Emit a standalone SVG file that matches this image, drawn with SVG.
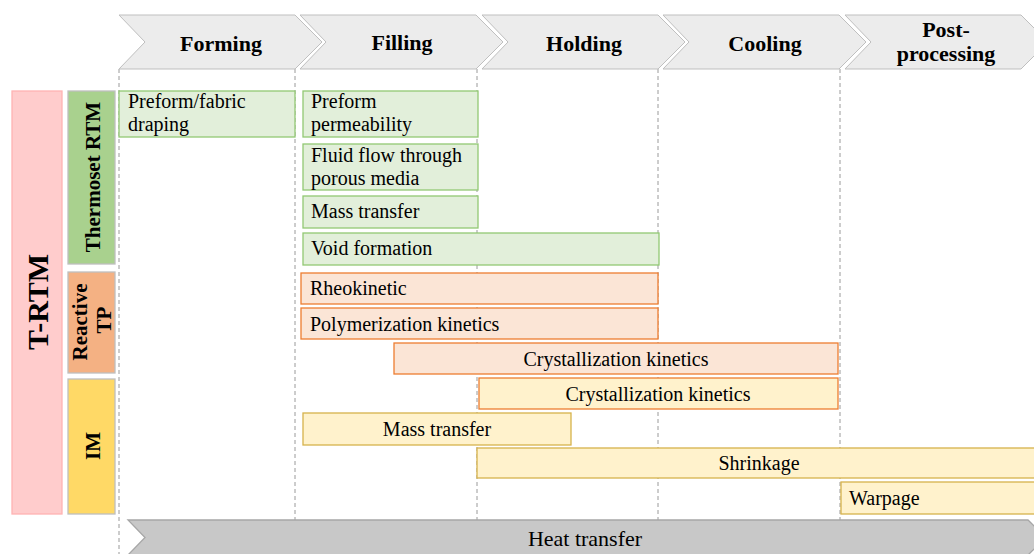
<svg xmlns="http://www.w3.org/2000/svg" width="1034" height="554" viewBox="0 0 1034 554">
<style>
text{font-family:"Liberation Serif","Times New Roman",serif;fill:#000}
.chev{fill:#ececec;stroke:#bfbfbf;stroke-width:1}
.ph{font-size:22px;font-weight:bold;text-anchor:middle}
.lbl{font-size:21px;font-weight:bold;text-anchor:middle}
.t{font-size:20px}
.c{text-anchor:middle}
.g{fill:#e2efda;stroke:#92c873;stroke-width:1.3}
.o{fill:#fbe5d6;stroke:#ed7d31;stroke-width:1.3}
.y{fill:#fff2cc;stroke:#d6b24c;stroke-width:1.3}
.dash{stroke:#9a9a9a;stroke-width:1;stroke-dasharray:4 3;fill:none}
</style>
<g id="connectors">
<line class="dash" x1="119" y1="69" x2="119" y2="554"/>
<line class="dash" x1="295" y1="69" x2="295" y2="520"/>
<line class="dash" x1="477" y1="69" x2="477" y2="520"/>
<line class="dash" x1="658" y1="69" x2="658" y2="520"/>
<line class="dash" x1="840" y1="69" x2="840" y2="520"/>
</g>
<g id="phase-forming">
<polygon class="chev" points="119,15 295,15 322,42 295,69 119,69 145,42"/>
<text class="ph" x="221" y="51">Forming</text>
</g>
<g id="phase-filling">
<polygon class="chev" points="300,15 476,15 503,42 476,69 300,69 326,42"/>
<text class="ph" x="402" y="50">Filling</text>
</g>
<g id="phase-holding">
<polygon class="chev" points="482,15 658,15 685,42 658,69 482,69 508,42"/>
<text class="ph" x="584" y="51">Holding</text>
</g>
<g id="phase-cooling">
<polygon class="chev" points="663,15 839,15 866,42 839,69 663,69 689,42"/>
<text class="ph" x="765" y="51">Cooling</text>
</g>
<g id="phase-post">
<polygon class="chev" points="845,15 1021,15 1048,42 1021,69 845,69 871,42"/>
<text class="ph" x="946" y="37">Post-</text>
<text class="ph" x="946" y="61">processing</text>
</g>
<g id="t-rtm">
<rect x="12" y="91" width="50" height="423" fill="#ffcccc" stroke="#ffb3b3" stroke-width="1.3"/>
<text transform="translate(48,302) rotate(-90)" font-size="30" font-weight="bold" text-anchor="middle">T-RTM</text>
</g>
<g id="thermoset-rtm">
<rect x="68" y="91" width="47" height="173" fill="#a9d18e" stroke="#bfbfbf" stroke-width="1.3"/>
<text class="lbl" transform="translate(100,177) rotate(-90)">Thermoset RTM</text>
</g>
<g id="reactive-tp">
<rect x="68" y="272" width="47" height="101" fill="#f4b183" stroke="#bfbfbf" stroke-width="1.3"/>
<text class="lbl" transform="translate(87,322) rotate(-90)">Reactive</text>
<text class="lbl" transform="translate(111,320) rotate(-90)">TP</text>
</g>
<g id="im">
<rect x="68" y="379" width="47" height="135" fill="#ffd966" stroke="#bfbfbf" stroke-width="1.3"/>
<text class="lbl" transform="translate(100,446) rotate(-90)">IM</text>
</g>
<g id="preform-draping">
<rect class="g" x="119" y="91" width="176" height="46"/>
<text class="t" x="128" y="108">Preform/fabric</text>
<text class="t" x="128" y="131">draping</text>
</g>
<g id="preform-permeability">
<rect class="g" x="303" y="91" width="175" height="46"/>
<text class="t" x="311" y="108">Preform</text>
<text class="t" x="311" y="131">permeability</text>
</g>
<g id="fluid-flow">
<rect class="g" x="303" y="144" width="175" height="46"/>
<text class="t" x="311" y="162">Fluid flow through</text>
<text class="t" x="311" y="185">porous media</text>
</g>
<g id="mass-transfer-rtm">
<rect class="g" x="303" y="196" width="175" height="32"/>
<text class="t" x="311" y="218">Mass transfer</text>
</g>
<g id="void-formation">
<rect class="g" x="303" y="233" width="356" height="32"/>
<text class="t" x="311" y="255">Void formation</text>
</g>
<g id="rheokinetic">
<rect class="o" x="301" y="273" width="357" height="31"/>
<text class="t" x="310" y="295">Rheokinetic</text>
</g>
<g id="polymerization-kinetics">
<rect class="o" x="301" y="308" width="357" height="31"/>
<text class="t" x="310" y="331">Polymerization kinetics</text>
</g>
<g id="crystallization-tp">
<rect class="o" x="394" y="343" width="444" height="31"/>
<text class="t c" x="616" y="366">Crystallization kinetics</text>
</g>
<g id="crystallization-im">
<rect x="479" y="378" width="359" height="31" fill="#fff2cc" stroke="#ed7d31" stroke-width="1.3"/>
<text class="t c" x="658" y="401">Crystallization kinetics</text>
</g>
<g id="mass-transfer-im">
<rect class="y" x="303" y="413" width="268" height="32"/>
<text class="t c" x="437" y="436">Mass transfer</text>
</g>
<g id="shrinkage">
<rect class="y" x="477" y="448" width="570" height="30"/>
<text class="t c" x="759" y="470">Shrinkage</text>
</g>
<g id="warpage">
<rect class="y" x="841" y="482" width="206" height="32"/>
<text class="t" x="849" y="505">Warpage</text>
</g>
<g id="heat-transfer">
<polygon points="128,520 1028,520 1046,537.5 1028,555 128,555 145,537.5" fill="#c8c8c8" stroke="#a6a6a6" stroke-width="1.3"/>
<text x="585" y="546" font-size="22" text-anchor="middle">Heat transfer</text>
</g>
</svg>
